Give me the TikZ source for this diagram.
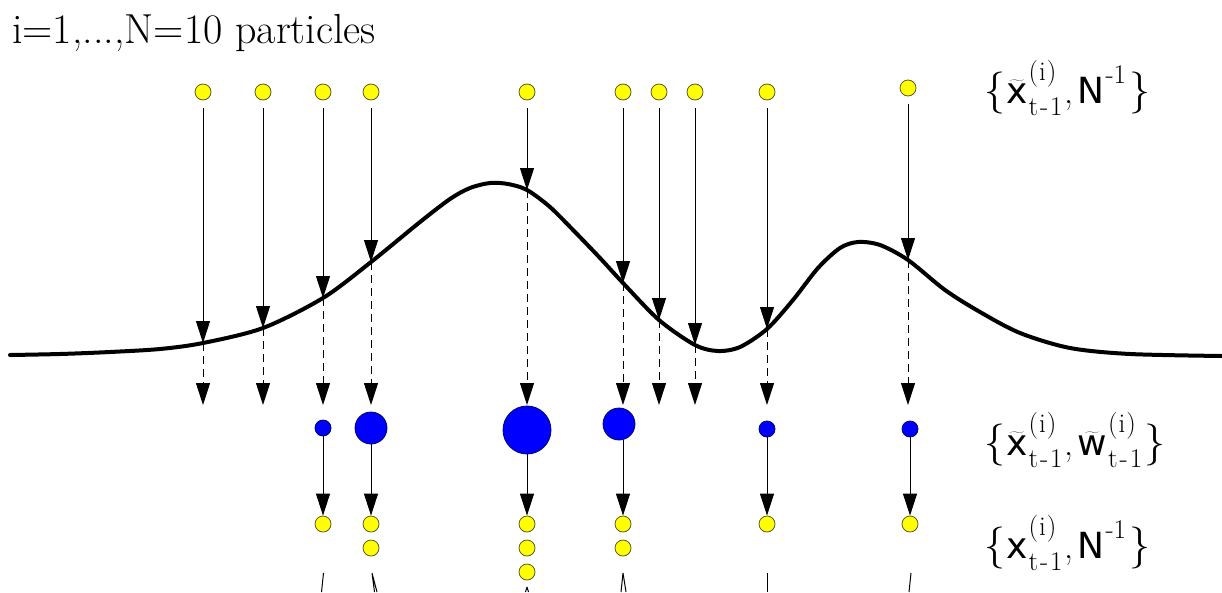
\documentclass[tikz,border=0pt]{standalone}
\usepackage{fontspec}
\newfontfamily\LblSans{DejaVu Sans}
\newfontfamily\LblSerif{DejaVu Serif}
\usetikzlibrary{arrows.meta}
\definecolor{pyellow}{RGB}{255,255,0}
\definecolor{pblue}{RGB}{0,0,255}
\definecolor{yedge}{RGB}{90,90,40}
\definecolor{bedge}{RGB}{0,0,110}
\newcommand\LblBrace{\fontsize{42}{44}\selectfont}
\newcommand\LblScr{\fontsize{27}{29}\selectfont}
\newcommand\LblSupSub[2]{\rlap{\raisebox{23pt}{\LblScr #1}}\raisebox{-12pt}{\LblScr #2}}
\newcommand\LblTmo{t\kern2pt-\kern2pt1}
\newcommand\LblIdx{(\kern1pt i\kern1pt)}
\newcommand\LblTilde[1]{\ensuremath{\widetilde{\hbox{\LblSans #1}}}}
\begin{document}
\begin{tikzpicture}[x=1pt,y=-1pt,
  ypart/.style={circle,draw=yedge,fill=pyellow,line width=0.8pt,minimum size=16pt,inner sep=0pt},
  bpart/.style={circle,draw=bedge,fill=pblue,line width=0.8pt,inner sep=0pt},
  arrtip/.style={-{Triangle[length=22pt,width=14pt]}},
  solidarr/.style={line width=1pt,arrtip},
  dasharr/.style={line width=1pt,dash pattern=on 8pt off 5pt,arrtip},
  density/.style={line width=4pt,line cap=round},
  stub/.style={line width=1pt},
  lbl/.style={anchor=base west,inner sep=0pt,font=\fontsize{36}{42}\selectfont}
]
\useasboundingbox (0,0) rectangle (1222,592);

% title
\node[anchor=base west,inner sep=0pt,font=\fontsize{42}{48}\selectfont] (title) at (12,43) {i=1,...,N=10 particles};

% density curve
\draw[density] plot[smooth] coordinates {(10,355) (60,354) (110,352) (160,349) (203,343) (263,328) (323,298) (371,262) (420,222) (450,199) (470,188) (490,183) (508,184) (527,190) (550,207) (575,232) (600,258) (623,283) (659,320) (695,345) (718,351) (740,347) (767,329) (793,300) (818,268) (840,248) (858,242) (880,245) (908,260) (945,290) (980,312) (1020,333) (1070,348) (1130,354) (1222,356)};

% top particles, curve hits and dashed ends
\foreach \i/\x/\yt/\yc in {1/203/92/343, 2/263/92/328, 3/323/92/298, 4/371/92/262, 5/527/92/190, 6/623/92/283, 7/659/92/320, 8/695/92/345, 9/767/92/329, 10/908/88/260}{
  \node[ypart] (p\i) at (\x,\yt) {};
  \coordinate (c\i) at (\x,\yc);
  \coordinate (d\i) at (\x,405);
  \draw[solidarr,shorten <=8pt] (p\i) -- (c\i);
  \draw[dasharr] (c\i) -- (d\i);
}

% weighted particles
\node[bpart,minimum size=16pt] (w3) at (323,428) {};
\node[bpart,minimum size=32pt] (w4) at (371,428) {};
\node[bpart,minimum size=48pt] (w5) at (527,430) {};
\node[bpart,minimum size=32pt] (w6) at (619,424) {};
\node[bpart,minimum size=16pt] (w9) at (767,429) {};
\node[bpart,minimum size=16pt] (w10) at (910,429) {};

% resampled particles
\node[ypart] (r3a) at (323,524) {};
\node[ypart] (r4a) at (371,524) {};
\node[ypart] (r4b) at (371,548) {};
\node[ypart] (r5a) at (527,524) {};
\node[ypart] (r5b) at (527,548) {};
\node[ypart] (r5c) at (527,572) {};
\node[ypart] (r6a) at (623,524) {};
\node[ypart] (r6b) at (623,548) {};
\node[ypart] (r9a) at (767,524) {};
\node[ypart] (r10a) at (910,524) {};

\draw[solidarr] (w3) -- (r3a);
\draw[solidarr] (w4) -- (r4a);
\draw[solidarr] (w5) -- (r5a);
\draw[solidarr] (r6a |- w6.south) -- (r6a);
\draw[solidarr] (w9) -- (r9a);
\draw[solidarr] (w10) -- (r10a);

% stubs of the next stage
\coordinate (s3) at (323.5,573); \coordinate (e3) at (321.5,592);
\coordinate (s4) at (372,573); \coordinate (e4a) at (374.5,592); \coordinate (e4b) at (377,592);
\coordinate (s5) at (527,587); \coordinate (e5a) at (525.5,592); \coordinate (e5b) at (528.5,592);
\coordinate (s6) at (623,573); \coordinate (e6a) at (621,592); \coordinate (e6b) at (626,592);
\coordinate (s9) at (767,573); \coordinate (e9) at (767,592);
\coordinate (s10) at (911,573); \coordinate (e10) at (909,592);
\draw[stub] (s3) -- (e3);
\draw[stub] (s4) -- (e4a) (s4) -- (e4b);
\draw[stub] (s5) -- (e5a) (s5) -- (e5b);
\draw[stub] (s6) -- (e6a) (s6) -- (e6b);
\draw[stub] (s9) -- (e9);
\draw[stub] (s10) -- (e10);

% labels
\node[lbl] (lab1) at (984,103) {{\LblBrace\{}\kern1pt\LblTilde{x}\kern1pt\LblSupSub{\LblIdx}{\LblTmo}\kern2pt,\kern4pt{\LblSans N}\kern1pt\raisebox{20pt}{\LblScr -1}\kern3pt{\LblBrace\}}};
\node[lbl] (lab2) at (984,455) {{\LblBrace\{}\kern1pt\LblTilde{x}\kern1pt\LblSupSub{\LblIdx}{\LblTmo}\kern2pt,\kern4pt\LblTilde{w}\kern1pt\LblSupSub{\LblIdx}{\LblTmo}\kern2pt{\LblBrace\}}};
\node[lbl] (lab3) at (984,558) {{\LblBrace\{}\kern1pt{\LblSans x}\kern1pt\LblSupSub{\LblIdx}{\LblTmo}\kern2pt,\kern4pt{\LblSans N}\kern1pt\raisebox{20pt}{\LblScr -1}\kern3pt{\LblBrace\}}};
\end{tikzpicture}
\end{document}
